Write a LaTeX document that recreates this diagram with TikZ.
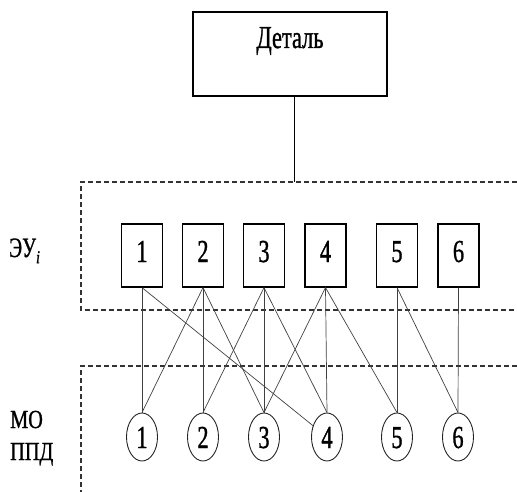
\documentclass[tikz,border=0pt]{standalone}
\usepackage{fontspec}
\setmainfont{Liberation Serif}[FakeBold=1.2,BoldFont=Liberation Serif]
\usetikzlibrary{shapes.geometric}
% narrow text, as the labels are set condensed
\newcommand{\narrowtext}[2][0.7]{\scalebox{#1}[1]{\bfseries #2}}
\begin{document}
\begin{tikzpicture}[x=1pt,y=-1pt,
  partbox/.style={draw=black,line width=1.2pt,minimum width=194pt,minimum height=84pt,inner sep=0pt},
  unitbox/.style={draw=black,line width=1.2pt,minimum width=41pt,minimum height=63pt,inner sep=0pt},
  opnode/.style={draw=black!85,line width=0.9pt,ellipse,minimum width=31pt,minimum height=48pt,inner sep=0pt},
  digit/.style={font=\fontsize{32}{32}\selectfont,inner sep=0pt,anchor=base},
  link/.style={draw=black!75,line width=0.7pt},
  zone/.style={draw=black!80,line width=1.3pt,dash pattern=on 5pt off 3pt},
  sidelabel/.style={inner sep=0pt,anchor=base west}]
  \useasboundingbox (0,0) rectangle (517,492);

  % top element
  \node[partbox] (part) at (290,54) {};
  \node[inner sep=0pt,anchor=base,font=\fontsize{32}{32}\selectfont] (parttext) at (290,48) {\narrowtext{Деталь}};

  % dashed zones
  \coordinate (zA) at (294,182);
  \draw[zone] (517,182) -- (81,182) -- (81,310) -- (517,310);
  \draw[zone] (517,366) -- (81,366) -- (81,492);
  \draw[line width=1pt] (part.south -| zA) -- (zA);

  % row labels
  \node[sidelabel,font=\fontsize{28}{28}\selectfont] (eu) at (9,257) {\narrowtext{ЭУ}\raisebox{-0.22em}{\fontsize{18}{18}\selectfont\itshape\narrowtext[0.8]{i}}};
  \node[sidelabel,font=\fontsize{26}{26}\selectfont] (mo) at (10,428) {\narrowtext[0.78]{МО}};
  \node[sidelabel,font=\fontsize{26}{26}\selectfont] (ppd) at (10,460) {\narrowtext[0.78]{ППД}};

  % units and operations
  \foreach \i/\bx/\ex in {1/142/142, 2/203/203, 3/264/264, 4/325.5/327, 5/397/397, 6/458.5/458}{
    \node[unitbox] (b\i) at (\bx,255.5) {};
    \node[digit] (bt\i) at (\bx,262) {\narrowtext{\i}};
    \node[opnode] (e\i) at (\ex,437) {};
    \node[digit] (et\i) at (\ex,448) {\narrowtext{\i}};
  }

  % links between units and operations
  \foreach \a/\b in {1/1, 2/1, 2/2, 2/3, 3/2, 3/3, 3/4, 4/3, 4/4, 4/5, 5/5, 5/6, 6/6}{
    \draw[link] (b\a.south) -- (e\b.north);
  }
  \draw[link] (b1.south) -- (e4);
\end{tikzpicture}
\end{document}
